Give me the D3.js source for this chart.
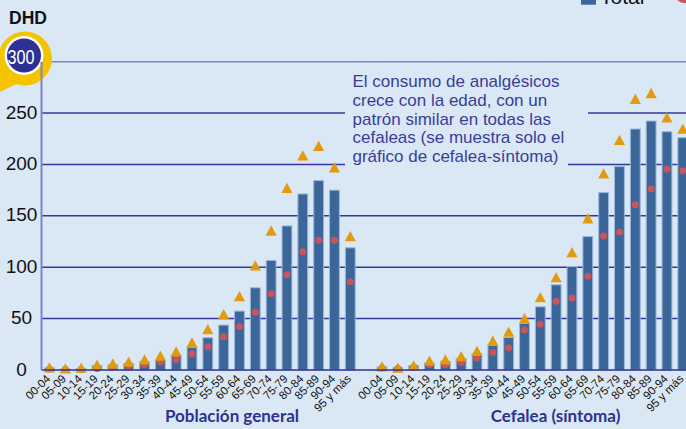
<!DOCTYPE html>
<html>
<head>
<meta charset="utf-8">
<script src="https://cdn.jsdelivr.net/npm/d3@7"></script>
<style>
  body { margin: 0; background: #dae8f5; }
  svg { display: block; }
</style>
</head>
<body>
<script>

  // age groups, same for both panels
  var ages = ["00-04", "05-09", "10-14", "15-19", "20-24", "25-29", "30-34",
              "35-39", "40-44", "45-49", "50-54", "55-59", "60-64", "65-69",
              "70-74", "75-79", "80-84", "85-89", "90-94", "95 y más"];

  // panel titles
  var panels = ["Población general", "Cefalea (síntoma)"];

  // DHD values, población general
  var generalTotal = [2, 1, 1.5, 4.5, 5, 6.4, 8, 9.7, 13.9, 22, 31.4, 43.7,
                      57.3, 80, 106.6, 140.2, 171.3, 184.3, 175, 118.9];
  var generalMujeres = [2.2, 1.3, 2, 4.9, 6.1, 7.9, 10, 13.6, 17.8, 26.5, 39.5,
                        54, 71.5, 101.4, 135.4, 176.9, 208.5, 217.8, 196.9, 130];
  var generalHombres = [1, 0.5, 0.5, 1.5, 3, 3.9, 5.2, 7.8, 10.3, 15.8, 22.6,
                        32.4, 42.4, 56.2, 74.2, 92.6, 115, 126.3, 126.3, 85.8];

  // DHD values, cefalea (síntoma)
  var cefaleaTotal = [2.9, 2.2, 4.2, 6.8, 8.4, 11.3, 15.8, 23.9, 31.7, 45.3,
                      61.5, 82.9, 100.7, 129.8, 172.6, 197.9, 234.5, 242.3, 231.9, 226];
  var cefaleaMujeres = [3.2, 2, 4.2, 8.7, 10, 13.2, 18.3, 28.2, 37, 50, 70.6,
                        90, 114.3, 147.3, 191, 223.5, 263.6, 269.2, 245.5, 234.5];
  var cefaleaHombres = [2, 1.5, 3, 5.2, 5.2, 7.4, 11.7, 17.1, 21.7, 39, 44.6,
                        67, 70, 91.3, 130.5, 134.4, 160.9, 176.2, 195.3, 194];

  // y axis ticks
  var yTicks = [0, 50, 100, 150, 200, 250];
  var yMax = 300;

  // annotation text
  var note = ["El consumo de analgésicos",
              "crece con la edad, con un",
              "patrón similar en todas las",
              "cefaleas (se muestra solo el",
              "gráfico de cefalea-síntoma)"];

  // colours
  var bg = "#dae8f5";
  var barColor = "#3b6699";
  var triColor = "#e39b0e";
  var dotColor = "#c9545a";
  var gridColor = "#34389a";
  var axisColor = "#7e84c8";
  var navy = "#2e3192";

  var width = 686;
  var height = 429;
  var left = 41.5;

  var svg = d3.select("body")
              .append("svg")
              .attr("width", width)
              .attr("height", height);

  svg.append("rect")
     .attr("width", width)
     .attr("height", height)
     .attr("fill", bg);

  var yScale = d3.scaleLinear()
                 .domain([0, yMax])
                 .range([370, 61.7]);

  // one band scale per panel
  var panelRanges = [[41.6, 358.2], [374.1, 690.7]];
  var xScales = panelRanges.map(function(r) {
    return d3.scaleBand()
             .domain(ages)
             .range(r)
             .paddingInner(0.38)
             .paddingOuter(0.19);
  });

  // grid lines
  svg.selectAll("line.grid")
     .data(yTicks.slice(1))
     .enter()
     .append("line")
     .attr("class", "grid")
     .attr("x1", left)
     .attr("x2", width)
     .attr("y1", function(d) { return yScale(d); })
     .attr("y2", function(d) { return yScale(d); })
     .attr("stroke", gridColor)
     .attr("stroke-width", 1.5);

  // top line at 300 is lighter
  svg.append("line")
     .attr("x1", left)
     .attr("x2", width)
     .attr("y1", yScale(yMax))
     .attr("y2", yScale(yMax))
     .attr("stroke", axisColor)
     .attr("stroke-width", 1.5);

  // background behind the note hides the grid
  svg.append("rect")
     .attr("x", 345).attr("y", 67)
     .attr("width", 243).attr("height", 86)
     .attr("fill", bg);
  svg.append("rect")
     .attr("x", 345).attr("y", 152)
     .attr("width", 223).attr("height", 18)
     .attr("fill", bg);

  svg.append("text")
     .attr("x", 352.5)
     .attr("y", 86.7)
     .style("font-family", "Liberation Sans, Arial, sans-serif")
     .style("font-size", "17px")
     .attr("fill", "#3a3c9c")
     .selectAll("tspan")
     .data(note)
     .enter()
     .append("tspan")
     .attr("x", 352.5)
     .attr("dy", function(d, i) { return i == 0 ? 0 : 18.9; })
     .text(function(d) { return d; });

  // data per panel
  var panelData = [
    {total: generalTotal, mujeres: generalMujeres, hombres: generalHombres},
    {total: cefaleaTotal, mujeres: cefaleaMujeres, hombres: cefaleaHombres}
  ];
  var titleX = [232, 555.5];

  panelData.forEach(function(p, k) {
    var x = xScales[k];
    var g = svg.append("g");

    // bars
    g.selectAll("rect")
     .data(p.total)
     .enter()
     .append("rect")
     .attr("x", function(d, i) { return x(ages[i]); })
     .attr("y", function(d) { return yScale(d); })
     .attr("width", x.bandwidth())
     .attr("height", function(d) { return yScale(0) - yScale(d); })
     .attr("fill", barColor)
     .attr("stroke", "#9ab6dc")
     .attr("stroke-width", 1);

    // hombres dots
    g.selectAll("circle")
     .data(p.hombres)
     .enter()
     .append("circle")
     .attr("cx", function(d, i) { return x(ages[i]) + x.bandwidth() / 2; })
     .attr("cy", function(d) { return yScale(d); })
     .attr("r", 3.5)
     .attr("fill", dotColor);

    // mujeres triangles
    g.selectAll("path.tri")
     .data(p.mujeres)
     .enter()
     .append("path")
     .attr("class", "tri")
     .attr("transform", function(d, i) {
       return "translate(" + (x(ages[i]) + x.bandwidth() / 2) + "," + yScale(d) + ")";
     })
     .attr("d", "M0,-5.5L5.6,4.8L-5.6,4.8Z")
     .attr("fill", triColor);

    // age labels
    var axis = d3.axisBottom(x).tickSize(0);
    var ax = svg.append("g")
                .attr("transform", "translate(0," + yScale(0) + ")")
                .call(axis);
    ax.select(".domain").remove();
    ax.selectAll("text")
      .attr("x", 0)
      .attr("y", 0)
      .attr("dy", 0)
      .attr("text-anchor", "end")
      .attr("transform", "translate(1.5,9.5) rotate(-45)")
      .style("font-family", "Liberation Sans, Arial, sans-serif")
      .style("font-size", "11.5px")
      .attr("fill", "#111");

    // panel title
    svg.append("text")
       .attr("x", titleX[k])
       .attr("y", 422)
       .attr("text-anchor", "middle")
       .style("font-family", "Lato, sans-serif")
       .style("font-weight", "bold")
       .style("font-size", "17px")
       .attr("fill", navy)
       .text(panels[k]);
  });

  // zero line
  svg.append("line")
     .attr("x1", left)
     .attr("x2", width)
     .attr("y1", yScale(0))
     .attr("y2", yScale(0))
     .attr("stroke", navy)
     .attr("stroke-width", 1.5);

  // y axis labels
  var yAxis = d3.axisLeft(yScale).tickValues(yTicks).tickSize(0);
  var yg = svg.append("g")
              .attr("transform", "translate(21.5,0)")
              .call(yAxis);
  yg.select(".domain").remove();
  yg.selectAll("text")
    .attr("x", 0)
    .attr("dy", 5)
    .attr("text-anchor", "middle")
    .style("font-family", "Liberation Sans, Arial, sans-serif")
    .style("font-size", "19px")
    .attr("fill", "#111");

  // 300 badge
  svg.append("path")
     .attr("d", "M0,62L0,92L18,83Z")
     .attr("fill", "#f5c400");
  svg.append("circle")
     .attr("cx", 25).attr("cy", 58.5).attr("r", 27)
     .attr("fill", "#f5c400");
  svg.append("circle")
     .attr("cx", 24).attr("cy", 55.5).attr("r", 19.5)
     .attr("fill", "#ffffff");
  svg.append("circle")
     .attr("cx", 24).attr("cy", 55.5).attr("r", 17)
     .attr("fill", navy);
  svg.append("text")
     .attr("x", 21)
     .attr("y", 63.5)
     .attr("text-anchor", "middle")
     .attr("textLength", 27)
     .attr("lengthAdjust", "spacingAndGlyphs")
     .style("font-family", "Liberation Sans, Arial, sans-serif")
     .style("font-size", "21px")
     .attr("fill", "#ffffff")
     .text(yMax);

  // y axis line
  svg.append("line")
     .attr("x1", left)
     .attr("x2", left)
     .attr("y1", yScale(yMax))
     .attr("y2", yScale(0))
     .attr("stroke", axisColor)
     .attr("stroke-width", 2);

  // DHD unit
  svg.append("text")
     .attr("x", 9)
     .attr("y", 24)
     .style("font-family", "Liberation Sans, Arial, sans-serif")
     .style("font-weight", "bold")
     .style("font-size", "17.5px")
     .attr("fill", "#111")
     .text("DHD");

  // legend, cut at the top edge
  svg.append("rect")
     .attr("x", 581).attr("y", -10)
     .attr("width", 15).attr("height", 14.7)
     .attr("fill", barColor);
  svg.append("text")
     .attr("x", 600)
     .attr("y", 3.5)
     .style("font-family", "Liberation Sans, Arial, sans-serif")
     .style("font-size", "21px")
     .attr("fill", "#111")
     .text("Total");
  svg.append("circle")
     .attr("cx", 684).attr("cy", -5).attr("r", 8)
     .attr("fill", dotColor);

</script>
</body>
</html>
